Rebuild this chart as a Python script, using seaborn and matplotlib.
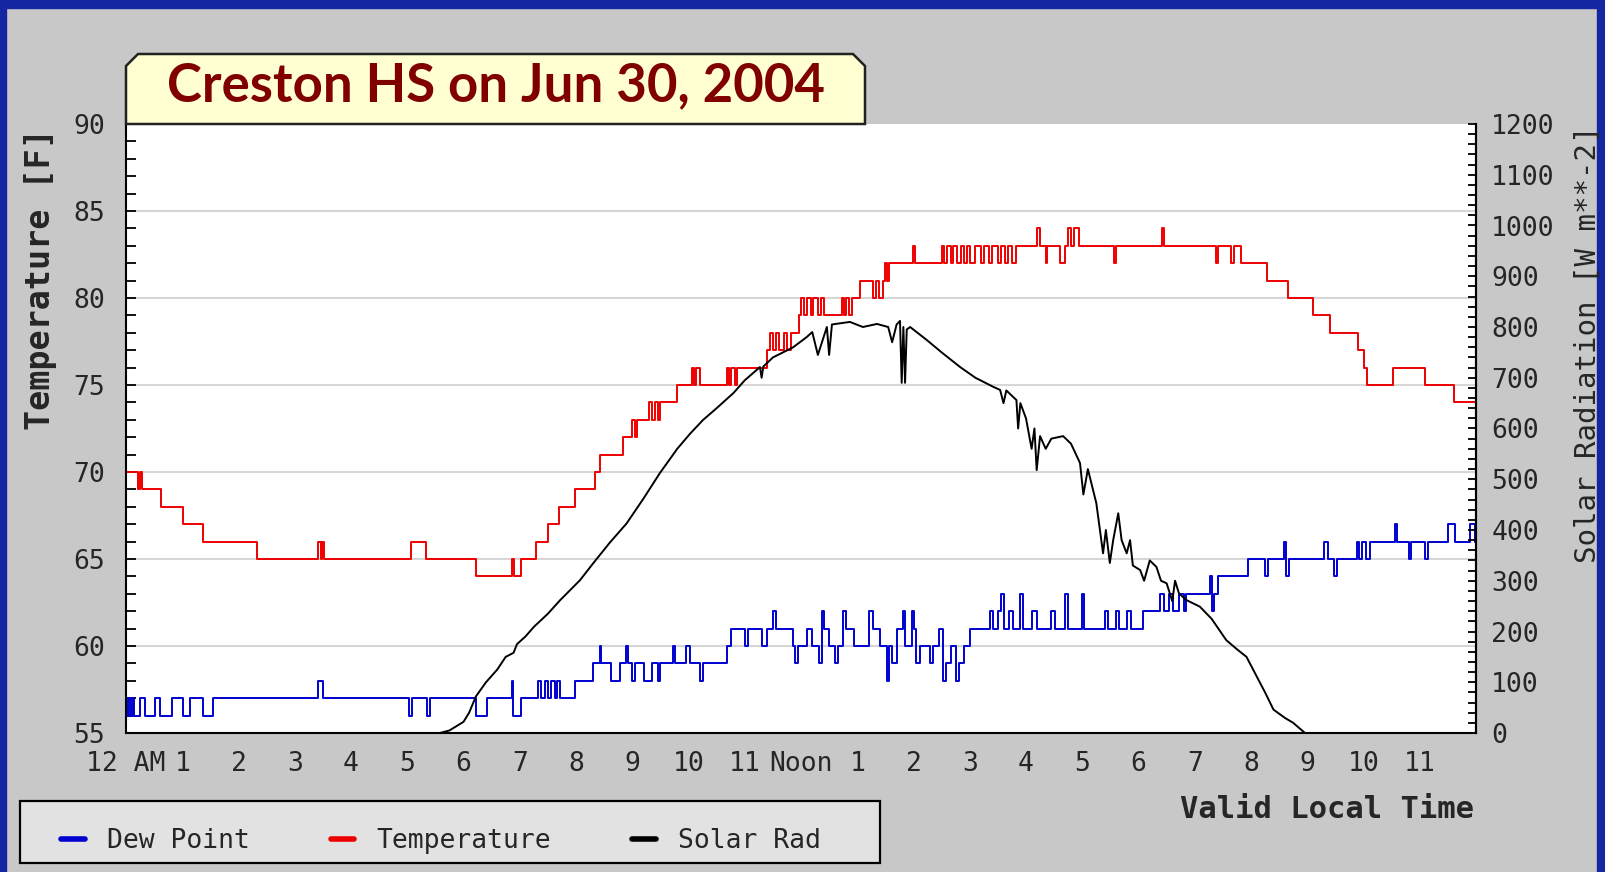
import matplotlib
matplotlib.use("Agg")
import matplotlib.pyplot as plt
from matplotlib.patches import Polygon, Rectangle
from matplotlib.lines import Line2D
from matplotlib.ticker import MultipleLocator
import seaborn as sns

# --- data (hour of day, value) ---
temp_hours = [0.00, 0.22, 0.25, 0.28, 0.62, 1.02, 1.37, 2.33, 3.42, 3.46, 3.48, 3.52,
              5.06, 5.33, 6.22, 6.86, 6.90, 7.03, 7.29, 7.50, 7.69, 7.98, 8.34, 8.43,
              8.84, 8.99, 9.04, 9.08, 9.30, 9.35, 9.40, 9.45, 9.50, 9.79, 10.06, 10.10,
              10.14, 10.20, 10.68, 10.72, 10.76, 10.82, 10.86, 11.39, 11.45, 11.50, 11.56,
              11.60, 11.70, 11.75, 11.82, 11.96, 12.00, 12.05, 12.10, 12.18, 12.22, 12.30,
              12.36, 12.40, 12.72, 12.76, 12.80, 12.86, 12.90, 13.04, 13.28, 13.33, 13.38,
              13.45, 13.50, 13.53, 13.57, 13.99, 14.02, 14.50, 14.55, 14.60, 14.66, 14.70,
              14.78, 14.85, 14.90, 14.95, 15.00, 15.10, 15.20, 15.25, 15.35, 15.40, 15.50,
              15.55, 15.62, 15.68, 15.75, 15.82, 16.20, 16.25, 16.35, 16.38, 16.60, 16.70,
              16.75, 16.80, 16.85, 16.95, 17.57, 17.60, 18.42, 18.46, 19.38, 19.42, 19.64,
              19.70, 19.83, 20.28, 20.65, 21.11, 21.40, 21.90, 22.00, 22.06, 22.53, 23.10,
              23.60, 24.00]
temp_values = [70, 69, 70, 69, 68, 67, 66, 65, 66, 65, 66, 65,
               66, 65, 64, 65, 64, 65, 66, 67, 68, 69, 70, 71,
               72, 73, 72, 73, 74, 73, 74, 73, 74, 75, 76, 75,
               76, 75, 76, 75, 76, 75, 76, 77, 78, 77, 78,
               77, 78, 77, 78, 79, 80, 79, 80, 79, 80, 79,
               80, 79, 80, 79, 80, 79, 80, 81, 80, 81, 80,
               81, 82, 81, 82, 83, 82, 83, 82, 83, 82, 83,
               82, 83, 82, 83, 82, 83, 82, 83, 82, 83, 82,
               83, 82, 83, 82, 83, 84, 83, 82, 83, 82, 83,
               84, 83, 84, 83, 82, 83, 84, 83, 82, 83, 82,
               83, 82, 81, 80, 79, 78, 77, 76, 75, 76, 75,
               74, 74]

dew_hours = [0.00, 0.02, 0.05, 0.08, 0.12, 0.15, 0.25, 0.34, 0.52, 0.60, 0.81, 1.02,
             1.14, 1.37, 1.55, 3.42, 3.50, 5.03, 5.08, 5.35, 5.40, 6.22, 6.41, 6.86,
             6.88, 7.03, 7.33, 7.38, 7.45, 7.50, 7.55, 7.62, 7.66, 7.72, 7.98, 8.31,
             8.42, 8.45, 8.62, 8.78, 8.88, 8.92, 9.00, 9.05, 9.20, 9.35, 9.45, 9.50,
             9.72, 9.76, 9.95, 10.02, 10.20, 10.25, 10.68, 10.75, 11.00, 11.05, 11.30,
             11.40, 11.51, 11.55, 11.85, 11.90, 11.95, 12.10, 12.20, 12.32, 12.37, 12.40,
             12.50, 12.60, 12.66, 12.75, 12.80, 12.95, 13.20, 13.28, 13.40, 13.52, 13.56,
             13.62, 13.70, 13.82, 13.85, 13.97, 14.00, 14.05, 14.12, 14.30, 14.35, 14.45,
             14.52, 14.58, 14.66, 14.75, 14.80, 14.90, 15.00, 15.36, 15.42, 15.50, 15.55,
             15.60, 15.70, 15.76, 15.90, 15.95, 16.10, 16.20, 16.45, 16.52, 16.70, 16.74,
             17.00, 17.03, 17.40, 17.45, 17.60, 17.65, 17.80, 17.86, 18.08, 18.38, 18.45,
             18.55, 18.62, 18.72, 18.80, 18.85, 19.27, 19.30, 19.35, 19.42, 19.95, 20.25,
             20.30, 20.58, 20.62, 20.68, 21.30, 21.36, 21.48, 21.53, 21.88, 21.92, 21.98,
             22.05, 22.12, 22.56, 22.60, 22.80, 22.85, 23.10, 23.15, 23.50, 23.63, 23.90,
             23.98, 24.00]
dew_values = [57, 56, 57, 56, 57, 56, 57, 56, 57, 56, 57, 56,
              57, 56, 57, 58, 57, 56, 57, 56, 57, 56, 57, 58,
              56, 57, 58, 57, 58, 57, 58, 57, 58, 57, 58, 59,
              60, 59, 58, 59, 60, 59, 58, 59, 58, 59, 58, 59,
              60, 59, 60, 59, 58, 59, 60, 61, 60, 61, 60,
              61, 62, 61, 60, 59, 60, 61, 60, 59, 62, 61,
              60, 59, 60, 62, 61, 60, 62, 61, 60, 58, 60,
              59, 61, 62, 60, 62, 61, 59, 60, 59, 60, 61,
              58, 59, 60, 58, 59, 60, 61, 62, 61, 62, 63,
              61, 62, 61, 63, 61, 62, 61, 62, 61, 63, 61,
              63, 61, 62, 61, 62, 61, 62, 61, 62, 63, 62,
              63, 62, 63, 62, 63, 64, 62, 63, 64, 65, 64,
              65, 66, 64, 65, 66, 65, 64, 65, 66, 65, 66,
              65, 66, 67, 66, 65, 66, 65, 66, 67, 66, 67,
              66, 66]

solar_hours = [5.58, 5.75, 6.00, 6.10, 6.22, 6.40, 6.60, 6.75, 6.89, 6.95, 7.10, 7.25,
               7.50, 7.72, 8.07, 8.31, 8.60, 8.90, 9.20, 9.49, 9.80, 10.03, 10.26, 10.50,
               10.80, 11.00, 11.27, 11.30, 11.33, 11.50, 11.86, 12.10, 12.20, 12.30, 12.46,
               12.50, 12.55, 12.87, 13.10, 13.35, 13.55, 13.62, 13.70, 13.76, 13.79, 13.82,
               13.85, 13.88, 13.94, 14.24, 14.50, 14.83, 15.10, 15.42, 15.54, 15.60, 15.65,
               15.83, 15.86, 15.90, 16.00, 16.10, 16.15, 16.19, 16.25, 16.35, 16.45, 16.66,
               16.80, 16.96, 17.02, 17.10, 17.25, 17.37, 17.42, 17.49, 17.55, 17.64, 17.70,
               17.79, 17.85, 17.90, 18.03, 18.10, 18.20, 18.32, 18.40, 18.50, 18.60, 18.65,
               18.72, 18.85, 19.09, 19.30, 19.56, 19.75, 19.92, 20.16, 20.25, 20.40, 20.60,
               20.75, 20.96]
solar_values = [0, 5, 22, 40, 72, 100, 125, 150, 158, 175, 190, 209,
                235, 262, 301, 335, 375, 413, 462, 512, 560, 590, 617, 640,
                670, 695, 721, 700, 722, 740, 760, 780, 790, 745, 800,
                745, 805, 810, 800, 806, 800, 770, 805, 812, 690, 800,
                690, 795, 800, 774, 750, 721, 700, 682, 676, 650, 675,
                656, 600, 650, 620, 560, 600, 518, 585, 560, 580, 585,
                570, 532, 470, 520, 453, 354, 400, 335, 380, 433, 380,
                354, 380, 330, 321, 300, 340, 327, 300, 295, 260, 300,
                275, 262, 249, 225, 183, 165, 150, 99, 80, 46, 30,
                20, 0]

hour_labels = ["12 AM", "1", "2", "3", "4", "5", "6", "7", "8", "9", "10", "11",
               "Noon", "1", "2", "3", "4", "5", "6", "7", "8", "9", "10", "11"]

sns.set_theme(style="white")
plt.rcParams["font.family"] = ["DejaVu Sans Mono", "DejaVu Sans"]

W, H = 1605, 872
bg = "#c8c8c8"
fig = plt.figure(figsize=(W / 100, H / 100), dpi=100, facecolor=bg)


def fx(px):
    return px / W


def fy(py):
    return 1 - py / H


# blue frame of the screenshot
for (x0, y0, w, h) in [(0, 0, W, 8), (0, 0, 6, H), (W - 8, 0, 8, H)]:
    fig.patches.append(Rectangle((fx(x0), fy(y0 + h)), w / W, h / H,
                                 transform=fig.transFigure, color="#1426a0", zorder=0))

ax = fig.add_axes([fx(126), fy(733), fx(1476) - fx(126), fy(124) - fy(733)])
ax.set_facecolor("white")

sns.lineplot(x=dew_hours, y=dew_values, ax=ax, color="#0000d0", lw=1.4,
             drawstyle="steps-post", estimator=None, legend=False)
sns.lineplot(x=temp_hours, y=temp_values, ax=ax, color="#ee0000", lw=1.4,
             drawstyle="steps-post", estimator=None, legend=False)

ax.set_xlim(0, 24)
ax.set_ylim(55, 90)
ax.set_xticks(range(24))
ax.set_xticklabels(hour_labels)
ax.yaxis.set_major_locator(MultipleLocator(5))
ax.yaxis.set_minor_locator(MultipleLocator(1))
ax.tick_params(axis="x", direction="in", length=11, width=1.3, color="black",
               labelsize=19, pad=13, top=False)
ax.tick_params(axis="y", which="both", direction="in", length=7, width=1.3,
               color="black", labelsize=19, pad=15, right=False, left=True)
for yv in range(60, 90, 5):
    ax.axhline(yv, color="#d6d6d6", lw=1.5, zorder=0)
ax.set_xlabel("")
ax.set_ylabel("")
for s in ["left", "bottom", "right"]:
    ax.spines[s].set_color("black")
    ax.spines[s].set_linewidth(1.5)
ax.spines["top"].set_visible(False)

ax2 = ax.twinx()
sns.lineplot(x=solar_hours, y=solar_values, ax=ax2, color="black", lw=1.4,
             estimator=None, legend=False)
ax2.set_ylim(0, 1200)
ax2.yaxis.set_major_locator(MultipleLocator(100))
ax2.yaxis.set_minor_locator(MultipleLocator(20))
ax2.tick_params(axis="y", which="both", direction="in", length=6, width=1.3,
                color="black", labelsize=19, pad=11, right=True)
ax2.set_ylabel("")
ax2.spines["top"].set_visible(False)
ax2.spines["right"].set_linewidth(1.5)
ax2.spines["right"].set_color("black")
ax2.spines["left"].set_visible(False)
ax2.spines["bottom"].set_visible(False)

# axis titles
fig.text(fx(41), fy(279), "Temperature [F]", rotation=90, ha="center", va="center",
         fontsize=24, fontweight="bold")
fig.text(fx(1588), fy(344), "Solar Radiation [W m**-2]", rotation=90, ha="center",
         va="center", fontsize=21)
fig.text(fx(1474), fy(809), "Valid Local Time", ha="right", va="center",
         fontsize=22, fontweight="bold")

# title box with cut top corners
c = 12
box = Polygon([(fx(126), fy(124)), (fx(126), fy(54 + c)), (fx(126 + c), fy(54)),
               (fx(865 - c), fy(54)), (fx(865), fy(54 + c)), (fx(865), fy(124))],
              closed=True, transform=fig.transFigure, facecolor="#ffffd2",
              edgecolor="#222222", lw=1.8, zorder=5)
fig.patches.append(box)
fig.text(fx(496), fy(86), "Creston HS on Jun 30, 2004", ha="center", va="center",
         fontsize=38, fontweight="bold", color="#800000", family="Lato", zorder=6)

# legend: box drawn as a patch, entries placed inside it
fig.patches.append(Rectangle((fx(20), fy(863)), (880 - 20) / W, (863 - 801) / H,
                             transform=fig.transFigure, facecolor="#e2e2e2",
                             edgecolor="black", lw=1.6, zorder=1))
handles = [Line2D([], [], color="#0000d0", lw=4),
           Line2D([], [], color="#ee0000", lw=4),
           Line2D([], [], color="black", lw=4)]
leg = fig.legend(handles, ["Dew Point", "Temperature", "Solar Rad"], ncol=3,
                 loc="center left", bbox_to_anchor=(fx(61), fy(841)), borderaxespad=0,
                 fontsize=19, handlelength=0.9, handletextpad=0.85, columnspacing=3.05,
                 borderpad=0, frameon=False)

fig.savefig("out.png", dpi=100, facecolor=bg)
